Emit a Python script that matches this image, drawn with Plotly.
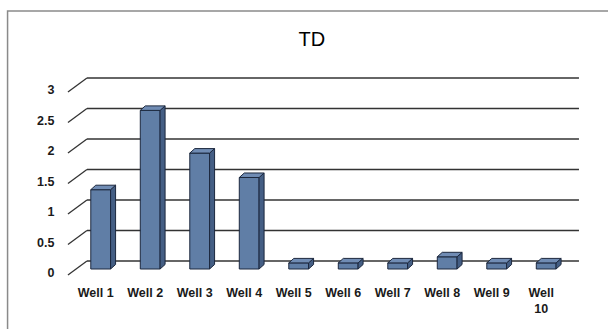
import plotly.graph_objects as go

# Data
wells = ["Well 1", "Well 2", "Well 3", "Well 4", "Well 5",
         "Well 6", "Well 7", "Well 8", "Well 9", "Well<br>10"]
td = [1.3, 2.6, 1.9, 1.5, 0.1, 0.1, 0.1, 0.2, 0.1, 0.1]
y_ticks = [0, 0.5, 1, 1.5, 2, 2.5, 3]
y_tick_text = ["0", "0.5", "1", "1.5", "2", "2.5", "3"]

positions = list(range(len(wells)))

# Axis geometry (bar front plane)
X_RANGE = [-0.822, 9.986]
Y_RANGE = [-0.1475, 3.426]
PX_X = 535 / (X_RANGE[1] - X_RANGE[0])   # pixels per category
PX_Y = 218 / (Y_RANGE[1] - Y_RANGE[0])   # pixels per unit

BAR_W = 0.40
# pseudo-3D depth offsets, given in pixels and converted to data units
BAR_DX, BAR_DY = 5 / PX_X, 4.5 / PX_Y
BACK_DX, BACK_DY = 11 / PX_X, 8 / PX_Y
FRONT_DX, FRONT_DY = -8 / PX_X, -6 / PX_Y
WALL_LEFT, WALL_RIGHT = -0.5, 9.44

FRONT_COL = "rgb(96,126,166)"
SIDE_COL = "rgb(68,94,132)"
TOP_COL = "rgb(112,140,180)"
EDGE_COL = "rgb(28,40,62)"
GRID_COL = "#333333"

shapes = []

# back wall gridlines and the side-wall diagonals
for v in y_ticks:
    shapes.append(dict(type="line", xref="x", yref="y", layer="below",
                       x0=WALL_LEFT + BACK_DX, y0=v + BACK_DY,
                       x1=WALL_RIGHT + BACK_DX, y1=v + BACK_DY,
                       line=dict(color=GRID_COL, width=1.7)))
    shapes.append(dict(type="line", xref="x", yref="y", layer="below",
                       x0=WALL_LEFT + FRONT_DX, y0=v + FRONT_DY,
                       x1=WALL_LEFT + BACK_DX, y1=v + BACK_DY,
                       line=dict(color=GRID_COL, width=1.3)))


def poly(pts):
    return "M " + " L ".join(f"{px},{py}" for px, py in pts) + " Z"


# top and side faces of each column
for xc, v in zip(positions, td):
    xl, xr = xc - BAR_W / 2, xc + BAR_W / 2
    side = [(xr, 0), (xr, v), (xr + BAR_DX, v + BAR_DY), (xr + BAR_DX, BAR_DY)]
    top = [(xl, v), (xr, v), (xr + BAR_DX, v + BAR_DY), (xl + BAR_DX, v + BAR_DY)]
    shapes.append(dict(type="path", xref="x", yref="y", layer="above",
                       path=poly(side), fillcolor=SIDE_COL,
                       line=dict(color=EDGE_COL, width=1)))
    shapes.append(dict(type="path", xref="x", yref="y", layer="above",
                       path=poly(top), fillcolor=TOP_COL,
                       line=dict(color=EDGE_COL, width=1)))

# chart frame
shapes.append(dict(type="rect", xref="paper", yref="paper", layer="below",
                   x0=-0.098, y0=-0.4, x1=1.2, y1=1.2248,
                   line=dict(color="#8a8a8a", width=1.5), fillcolor="rgba(0,0,0,0)"))

fig = go.Figure(go.Bar(
    x=positions, y=td, width=BAR_W,
    marker=dict(color=FRONT_COL, line=dict(color=EDGE_COL, width=1)),
    hoverinfo="skip",
))

tick_font = dict(family="Liberation Sans, Arial, sans-serif", size=12.5, color="#1a1a1a")

fig.update_layout(
    width=608, height=329,
    margin=dict(l=60, r=13, t=60, b=51),
    paper_bgcolor="white", plot_bgcolor="rgba(0,0,0,0)",
    showlegend=False,
    title=dict(text="TD", x=0.513, xref="container", y=0.8815, yref="container",
               xanchor="center", yanchor="middle",
               font=dict(family="Liberation Sans, Arial, sans-serif", size=20, color="black")),
    xaxis=dict(range=X_RANGE, tickvals=positions, ticktext=[f"<b>{w}</b>" for w in wells],
               showgrid=False, zeroline=False, showline=False,
               ticks="outside", ticklen=3, tickcolor="rgba(0,0,0,0)",
               ticklabelshift=-5, tickfont=tick_font, tickangle=0),
    yaxis=dict(range=Y_RANGE, tickvals=y_ticks, ticktext=[f"<b>{t}</b>" for t in y_tick_text],
               showgrid=False, zeroline=False, showline=False,
               ticks="outside", ticklen=2, tickcolor="rgba(0,0,0,0)",
               ticklabelshift=4, tickfont=tick_font),
    shapes=shapes,
)

fig.write_html("out.html")
